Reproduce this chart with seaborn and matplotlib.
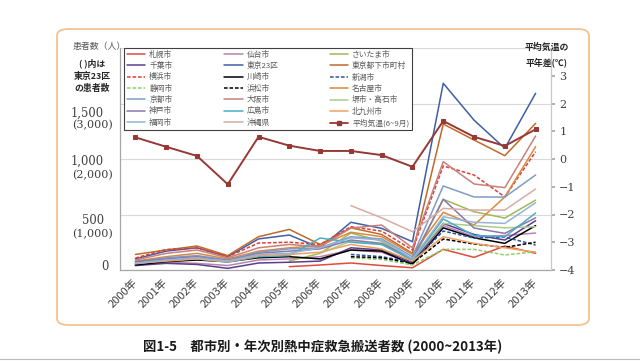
import numpy as np
import pandas as pd
import matplotlib
matplotlib.use("Agg")
import matplotlib.pyplot as plt
import seaborn as sns
from matplotlib.lines import Line2D
from matplotlib.patches import FancyBboxPatch

nan = np.nan
years = list(range(2000, 2014))
year_labels = [f"{y}年" for y in years]

# patients (persons); Tokyo 23 wards in real counts (plotted at half scale)
sapporo    = [nan, nan, nan, nan, nan, 30, 45, 63, 40, 20, 186, 114, 216, 150]
sendai     = [50, 70, 60, 40, 90, 100, 120, 180, 160, 60, 400, 300, 310, 333]
saitama    = [nan, nan, nan, nan, nan, 81, 150, 333, 260, 80, 637, 525, 468, 630]
chiba      = [40, 60, 50, 15, 63, 70, 80, 200, 180, 70, 420, 320, 270, 444]
tokyo23    = [200, 340, 400, 240, 560, 630, 400, 860, 750, 510, 3364, 2700, 2192, 3184]
tokyo_tama = [140, 180, 216, 130, 300, 366, 230, 380, 320, 150, 1315, 1171, 1030, 1321]
yokohama   = [108, 185, 198, 120, 243, 250, 230, 390, 350, 180, 937, 856, 658, 1066]
kawasaki   = [45, 75, 90, 75, 110, 120, 100, 180, 170, 50, 380, 290, 240, 400]
niigata    = [nan, nan, nan, nan, nan, nan, nan, 140, 120, 70, 351, 288, 297, 225]
shizuoka   = [nan, nan, nan, nan, nan, nan, nan, 110, 95, 45, 186, 186, 135, 165]
hamamatsu  = [nan, nan, nan, nan, nan, nan, nan, 120, 110, 60, 279, 234, 204, 250]
nagoya     = [80, 120, 150, 100, 170, 200, 220, 340, 300, 140, 520, 405, 658, 1111]
kyoto      = [70, 110, 130, 90, 160, 190, 200, 300, 280, 120, 757, 658, 657, 856]
osaka      = [90, 150, 180, 110, 200, 230, 210, 378, 405, 200, 976, 775, 742, 1207]
sakai      = [nan, nan, nan, nan, nan, nan, 150, 260, 230, 90, 420, 400, 380, 390]
kobe       = [75, 100, 120, 85, 150, 170, 190, 270, 240, 100, 637, 378, 330, 470]
hiroshima  = [55, 90, 100, 70, 120, 130, 288, 250, 230, 90, 460, 310, 300, 513]
kitakyushu = [60, 80, 100, 75, 130, 140, 160, 230, 190, 80, 300, 240, 200, 160]
fukuoka    = [60, 90, 110, 80, 140, 150, 200, 290, 270, 100, 480, 430, 420, 606]
okinawa    = [nan, nan, nan, nan, nan, nan, nan, 580, 470, 345, 555, 540, 540, 730]

# mean temperature anomaly (Jun-Sep), deg C
temp_anomaly = [0.78, 0.44, 0.11, -0.91, 0.80, 0.48, 0.29, 0.29, 0.14, -0.28, 1.37, 0.80, 0.47, 1.07]

series = {
    "札幌市": sapporo, "仙台市": sendai, "さいたま市": saitama, "千葉市": chiba,
    "東京23区": [v / 2 for v in tokyo23], "東京都下市町村": tokyo_tama,
    "横浜市": yokohama, "川崎市": kawasaki, "新潟市": niigata, "静岡市": shizuoka,
    "浜松市": hamamatsu, "名古屋市": nagoya, "京都市": kyoto, "大阪市": osaka,
    "堺市・高石市": sakai, "神戸市": kobe, "広島市": hiroshima, "北九州市": kitakyushu,
    "福岡市": fukuoka, "沖縄県": okinawa,
}
colors = {
    "札幌市": "#E04B3C", "仙台市": "#B983AE", "さいたま市": "#9BBB59", "千葉市": "#5B3E8E",
    "東京23区": "#3F5FA5", "東京都下市町村": "#C0692B", "横浜市": "#D9403A", "川崎市": "#000000",
    "新潟市": "#2E55A0", "静岡市": "#8FD16A", "浜松市": "#000000", "名古屋市": "#D9893F",
    "京都市": "#7E9CC8", "大阪市": "#C9807A", "堺市・高石市": "#A9CC8F", "神戸市": "#8A79A8",
    "広島市": "#4BACC6", "北九州市": "#F0A060", "福岡市": "#95B3D7", "沖縄県": "#D8ABA6",
}
dashed = {"横浜市", "新潟市", "静岡市", "浜松市"}
temp_color = "#973835"

rows = []
for name, vals in series.items():
    for i, v in enumerate(vals):
        rows.append({"city": name, "x": i, "v": v})
df = pd.DataFrame(rows).dropna()

sns.set_theme(style="white")
plt.rcParams["font.family"] = ["Noto Sans CJK JP", "DejaVu Sans"]

W, H = 640, 361
fig = plt.figure(figsize=(W / 100, H / 100), dpi=100)

def px(x, y):
    return x / W, 1 - y / H

# frame box
x0, y0 = px(57, 325)
x1, y1 = px(589, 29)
fig.patches.append(FancyBboxPatch((x0, y0), x1 - x0, y1 - y0,
                                  boxstyle="round,pad=0,rounding_size=0.018",
                                  transform=fig.transFigure, fc="none",
                                  ec="#F2C48D", lw=1.3, zorder=-5))
fig.add_artist(Line2D([0, 1], [1 - 359 / H] * 2, color="#BBBBBB", lw=0.8,
                      transform=fig.transFigure))

ax_l, ax_b = px(120, 270)
ax_r, ax_t = px(551, 48)
ax = fig.add_axes([ax_l, ax_b, ax_r - ax_l, ax_t - ax_b])
ax.patch.set_alpha(0)

dash_map = {n: ((2.4, 1.2) if n in dashed else "") for n in series}
sns.lineplot(data=df, x="x", y="v", hue="city", style="city",
             palette=colors, dashes=dash_map, hue_order=list(series),
             style_order=list(series), lw=1.1, ax=ax, legend=False, sort=True,
             estimator=None)

ax.set_xlim(-0.5, 13.5)
ax.set_ylim(0, 2000)
ax.set_xticks(range(len(years)))
ax.set_xticklabels(year_labels, rotation=45, ha="right", va="center",
                   rotation_mode="anchor", fontsize=8, color="#404040")
ax.tick_params(axis="x", length=0, pad=8)
ax.set_xticks(np.arange(-0.5, 14, 1), minor=True)
ax.tick_params(axis="x", which="minor", length=3, color="#A6A6A6", width=0.8)
ax.set_yticks([0, 500, 1000, 1500, 2000])
ax.set_yticklabels([])
ax.tick_params(axis="y", length=0)
ax.yaxis.grid(True, color="#D9D9D9", lw=0.8)
ax.set_xlabel("")
ax.set_ylabel("")
for s in ["top", "right"]:
    ax.spines[s].set_visible(False)
for s in ["left", "bottom"]:
    ax.spines[s].set_color("#A6A6A6")
    ax.spines[s].set_linewidth(0.9)

ax2 = ax.twinx()
sns.lineplot(x=list(range(len(years))), y=temp_anomaly, color=temp_color,
             lw=1.4, marker="s", markersize=2.8, markeredgecolor=temp_color,
             ax=ax2)
ax2.set_ylim(-4, 4)
ax2.set_yticks(range(-4, 4))
ax2.set_yticklabels([str(t).replace("-", "−") for t in range(-4, 4)],
                    family="DejaVu Serif", fontsize=8, color="#404040")
ax2.tick_params(axis="y", length=3, color="#A6A6A6", pad=3)
for s in ["top", "left", "bottom"]:
    ax2.spines[s].set_visible(False)
ax2.spines["right"].set_color("#C8C8C8")
ax2.spines["right"].set_linewidth(0.9)

# legend (column-major order)
handles = []
for name in series:
    ls = (0, (2.4, 1.2)) if name in dashed else "-"
    handles.append(Line2D([], [], color=colors[name], lw=1.1, linestyle=ls, label=name))
handles.append(Line2D([], [], color=temp_color, lw=1.3, marker="s", markersize=2.3,
                      label="平均気温(6~9月)"))
by = {h.get_label(): h for h in handles}
order = ["札幌市", "千葉市", "横浜市", "静岡市", "京都市", "神戸市", "福岡市",
         "仙台市", "東京23区", "川崎市", "浜松市", "大阪市", "広島市", "沖縄県",
         "さいたま市", "東京都下市町村", "新潟市", "名古屋市", "堺市・高石市", "北九州市",
         "平均気温(6~9月)"]
lx, ly = px(124, 48)
leg = ax2.legend([by[o] for o in order], order, ncol=3, loc="upper left",
                 bbox_to_anchor=(lx, ly), bbox_transform=fig.transFigure,
                 fontsize=5.6, frameon=True, fancybox=False, edgecolor="#404040",
                 framealpha=1, borderpad=0.35, labelspacing=0.42,
                 handlelength=2.4, handletextpad=0.5, columnspacing=6.6,
                 borderaxespad=0)
leg.get_frame().set_linewidth(0.8)
for t in leg.get_texts():
    t.set_color("#595959")

def ftext(x, y, s, **kw):
    fx, fy = px(x, y)
    fig.text(fx, fy, s, **kw)

serif = ["DejaVu Serif"]
# left axis labels
for val, yy, par, py in [("1,500", 113, "(3,000)", 125), ("1,000", 161, "(2,000)", 175),
                         ("500", 221, "(1,000)", 234)]:
    ftext(104, yy, val, ha="right", va="center", family=serif, fontsize=8.3, color="#404040")
    ftext(113, py, par, ha="right", va="center", family=serif, fontsize=8, color="#404040")
ftext(109, 267, "0", ha="right", va="center", family=serif, fontsize=8.3, color="#404040")

ftext(73, 47, "患者数（人）", ha="left", va="center", fontsize=6.4, color="#595959")
ftext(92, 63, "( )内は", ha="center", va="center", fontsize=6.4, fontweight="bold", color="#262626")
ftext(92, 76, "東京23区", ha="center", va="center", fontsize=6.4, fontweight="bold", color="#262626")
ftext(92, 88.5, "の患者数", ha="center", va="center", fontsize=6.4, fontweight="bold", color="#262626")

ftext(547, 47, "平均気温の", ha="center", va="center", fontsize=6.4, fontweight="bold", color="#262626")
ftext(547, 62, "平年差(℃)", ha="center", va="center", fontsize=6.4, fontweight="bold", color="#262626")

ftext(323, 347, "図1-5　都市別・年次別熱中症救急搬送者数 (2000~2013年)", ha="center",
      va="center", fontsize=9.6, fontweight="bold", color="#1A1A1A")

fig.savefig("out.png", dpi=100)
